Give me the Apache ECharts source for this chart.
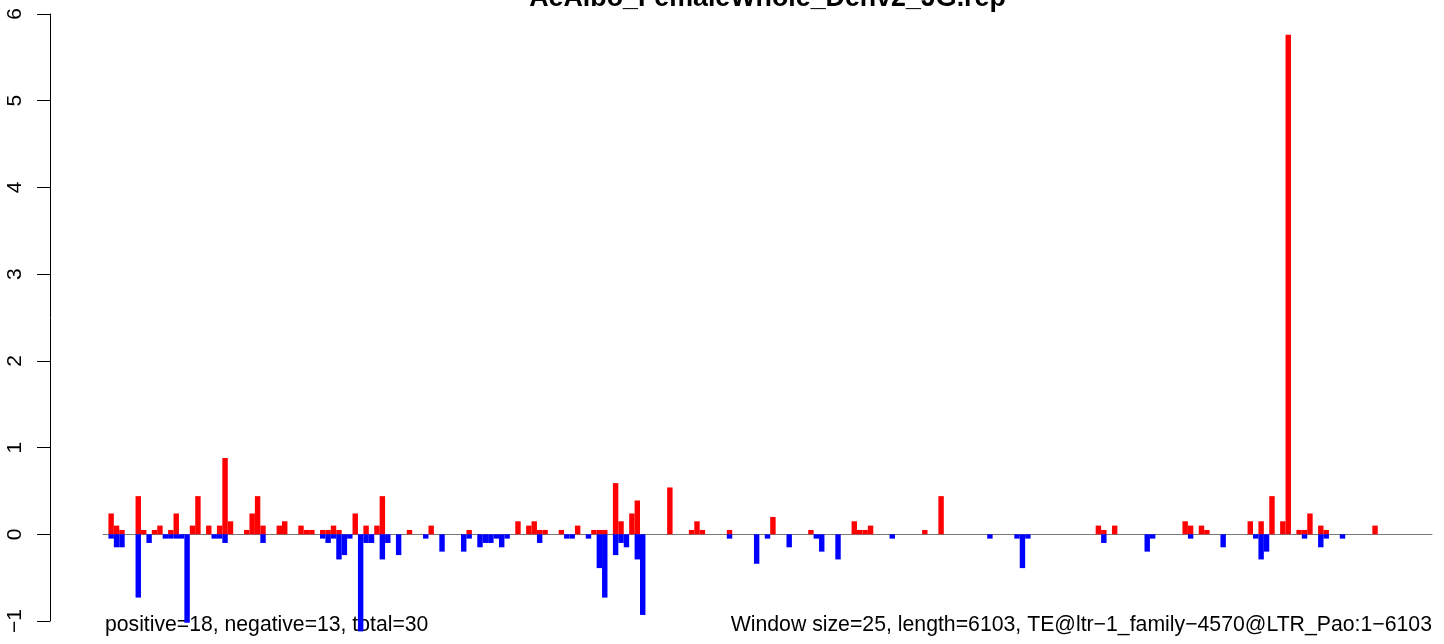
<!DOCTYPE html>
<html>
<head>
<meta charset="utf-8">
<script src="https://cdn.jsdelivr.net/npm/echarts@6/dist/echarts.min.js"></script>
<style>
  html, body { margin: 0; padding: 0; background: #ffffff; }
  #chart { width: 1444px; height: 644px; }
</style>
</head>
<body>
<div id="chart"></div>
<script>
// ---- data ----
const titleText = 'AeAlbo_FemaleWhole_Denv2_JG.rep';
const leftNote = 'positive=18, negative=13, total=30';
const rightNote = 'Window size=25, length=6103, TE@ltr\u22121_family\u22124570@LTR_Pao:1\u22126103';
const nWindows = 245;
const categories = Array.from({ length: nWindows }, (_, i) => String(i));
const yTicks = [-1, 0, 1, 2, 3, 4, 5, 6];

const posWin = [1,2,3,6,7,9,10,12,13,16,17,19,21,22,23,26,27,28,29,32,33,36,37,38,40,41,42,43,46,48,50,51,56,60,67,76,78,79,80,81,84,87,90,91,92,94,95,97,98,104,108,109,110,115,123,130,138,139,140,141,151,154,183,184,186,199,200,202,203,211,213,215,217,218,220,221,222,224,225,234];
const posVal = [0.24,0.1,0.05,0.44,0.05,0.05,0.1,0.05,0.24,0.1,0.44,0.1,0.1,0.88,0.15,0.05,0.24,0.44,0.1,0.1,0.15,0.1,0.05,0.05,0.05,0.05,0.1,0.05,0.24,0.1,0.1,0.44,0.05,0.1,0.05,0.15,0.1,0.15,0.05,0.05,0.05,0.1,0.05,0.05,0.05,0.59,0.15,0.24,0.39,0.54,0.05,0.15,0.05,0.05,0.2,0.05,0.15,0.05,0.05,0.1,0.05,0.44,0.1,0.05,0.1,0.15,0.1,0.1,0.05,0.15,0.15,0.44,0.15,5.76,0.05,0.05,0.24,0.1,0.05,0.1];

const negWin = [1,2,3,6,8,11,12,13,14,15,20,21,22,29,40,41,42,43,44,45,47,48,49,51,52,54,59,62,66,67,69,70,71,72,73,74,80,85,86,89,91,92,94,95,96,98,99,115,120,122,126,131,132,135,145,163,168,169,170,184,192,193,200,206,212,213,214,221,224,225,228];
const negVal = [-0.05,-0.15,-0.15,-0.73,-0.1,-0.05,-0.05,-0.05,-0.05,-1.02,-0.05,-0.05,-0.1,-0.1,-0.05,-0.1,-0.05,-0.29,-0.24,-0.05,-1.12,-0.1,-0.1,-0.29,-0.1,-0.24,-0.05,-0.2,-0.2,-0.05,-0.15,-0.1,-0.1,-0.05,-0.15,-0.05,-0.1,-0.05,-0.05,-0.05,-0.39,-0.73,-0.24,-0.1,-0.15,-0.29,-0.93,-0.05,-0.34,-0.05,-0.15,-0.05,-0.2,-0.29,-0.05,-0.05,-0.05,-0.39,-0.05,-0.1,-0.2,-0.05,-0.05,-0.15,-0.05,-0.29,-0.2,-0.05,-0.15,-0.05,-0.05];

// ---- chart ----
const FONT = "'Liberation Sans', Arial, Helvetica, sans-serif";
const chart = echarts.init(document.getElementById('chart'), null, { renderer: 'canvas' });

const posData = posWin.map((w, i) => [w, posVal[i]]);
const negData = negWin.map((w, i) => [w, negVal[i]]);

chart.setOption({
  animation: false,
  backgroundColor: '#ffffff',
  grid: { left: 103, right: 12, top: 14, bottom: 23, containLabel: false },
  xAxis: {
    type: 'category',
    data: categories,
    boundaryGap: true,
    axisLine: { show: true, onZero: true, lineStyle: { color: '#7a7a7a', width: 1 } },
    axisTick: { show: false },
    axisLabel: { show: false },
    splitLine: { show: false }
  },
  yAxis: {
    type: 'value',
    min: yTicks[0],
    max: yTicks[yTicks.length - 1],
    interval: 1,
    offset: 53,
    axisLine: { show: true, lineStyle: { color: '#000000', width: 1 } },
    axisTick: { show: true, inside: false, length: 13, lineStyle: { color: '#000000', width: 1 } },
    axisLabel: {
      show: true, rotate: 90, margin: 24,
      color: '#000000', fontSize: 21, fontFamily: FONT,
      formatter: v => (v < 0 ? '\u2212' + Math.abs(v) : String(v))
    },
    splitLine: { show: false }
  },
  series: [
    {
      name: 'positive', type: 'bar', data: posData,
      barWidth: '100%', barGap: '-100%', barCategoryGap: '0%',
      clip: false,
      itemStyle: { color: '#ff0000' }
    },
    {
      name: 'negative', type: 'bar', data: negData,
      barWidth: '100%', barGap: '-100%', barCategoryGap: '0%',
      clip: false,
      itemStyle: { color: '#0000ff' }
    }
  ],
  graphic: [
    {
      type: 'text', x: 767.5, y: -1,
      style: { text: titleText, align: 'center', verticalAlign: 'middle',
        font: "bold 26.8px " + FONT, fill: '#000000' }
    },
    {
      type: 'text', x: 105, y: 625,
      style: { text: leftNote, align: 'left', verticalAlign: 'middle',
        font: "21.2px " + FONT, fill: '#000000' }
    },
    {
      type: 'text', x: 1432, y: 625,
      style: { text: rightNote, align: 'right', verticalAlign: 'middle',
        font: "21.25px " + FONT, fill: '#000000' }
    }
  ]
});
</script>
</body>
</html>
